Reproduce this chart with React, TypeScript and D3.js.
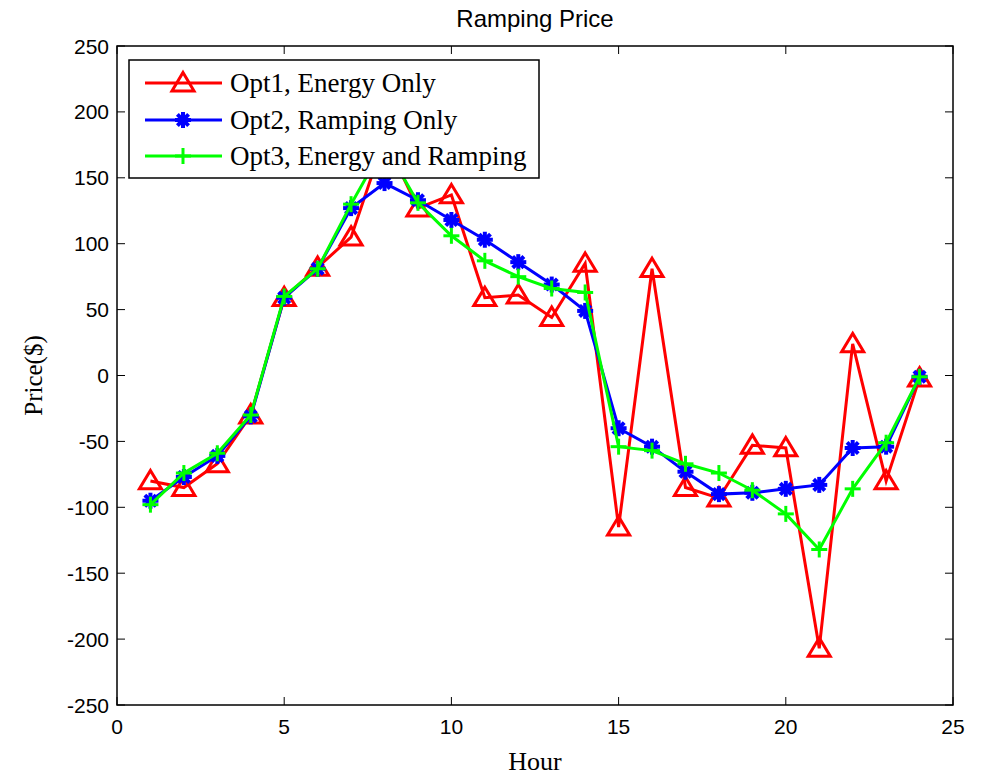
import React from "react";
import * as d3 from "d3";

const hours = [1, 2, 3, 4, 5, 6, 7, 8, 9, 10, 11, 12, 13, 14, 15, 16, 17, 18, 19, 20, 21, 22, 23, 24];
const opt1 = [-80, -85, -67, -30, 59, 82, 105, 180, 127, 137, 59, 61, 44, 85, -115, 81, -85, -93, -53, -55, -207, 24, -80, -2];
const opt2 = [-95, -77, -61, -31, 59, 81, 127, 146, 133, 118, 103, 86, 69, 49, -40, -54, -73, -90, -89, -86, -83, -55, -54, -1];
const opt3 = [-98, -74, -59, -30, 60, 81, 130, 175, 131, 106, 87, 75, 66, 63, -54, -57, -67, -74, -87, -105, -132, -86, -51, -1];
const xTicks = [0, 5, 10, 15, 20, 25];
const yTicks = [-250, -200, -150, -100, -50, 0, 50, 100, 150, 200, 250];
const seriesNames = ["Opt1, Energy Only", "Opt2, Ramping Only", "Opt3, Energy and Ramping"];
const seriesColors = ["#ff0000", "#0000ff", "#00ff00"];

const W = 983, H = 775;
const L = 117, R = 953, T = 46, B = 705;

function Marker({ kind, x, y, color }: { kind: number; x: number; y: number; color: string }) {
  if (kind === 0) {
    const s = 10.5;
    const pts = `${x},${y - s} ${x + s * 1.05},${y + s * 0.75} ${x - s * 1.05},${y + s * 0.75}`;
    return <polygon points={pts} fill="none" stroke={color} strokeWidth={3} />;
  }
  if (kind === 1) {
    const s = 6;
    return (
      <g stroke={color} strokeWidth={4} strokeLinecap="square">
        <line x1={x - s} y1={y} x2={x + s} y2={y} />
        <line x1={x} y1={y - s} x2={x} y2={y + s} />
        <line x1={x - s * 0.7} y1={y - s * 0.7} x2={x + s * 0.7} y2={y + s * 0.7} />
        <line x1={x - s * 0.7} y1={y + s * 0.7} x2={x + s * 0.7} y2={y - s * 0.7} />
      </g>
    );
  }
  const s = 8;
  return (
    <g stroke={color} strokeWidth={3}>
      <line x1={x - s} y1={y} x2={x + s} y2={y} />
      <line x1={x} y1={y - s} x2={x} y2={y + s} />
    </g>
  );
}

export default function App() {
  const x = d3.scaleLinear().domain([0, 25]).range([L, R]);
  const y = d3.scaleLinear().domain([-250, 250]).range([B, T]);
  const line = d3
    .line<number>()
    .x((_, i) => x(hours[i]))
    .y((d) => y(d));
  const all = [opt1, opt2, opt3];
  const tickLen = 8;
  const sans = "'Liberation Sans', Arial, sans-serif";
  const serif = "'Liberation Serif', 'Times New Roman', serif";
  const legX = 129, legY = 60, legW = 410, legH = 118;
  const rowY = [83, 120, 156];

  return (
    <svg width={W} height={H} style={{ position: "absolute", left: 0, top: 0, background: "#fff" }}>
      <rect x={0} y={0} width={W} height={H} fill="#fff" />
      <defs>
        <clipPath id="plotclip">
          <rect x={L} y={T} width={R - L} height={B - T} />
        </clipPath>
      </defs>
      <g clipPath="url(#plotclip)">
        {all.map((s, k) => (
          <g key={k}>
            <path d={line(s) || ""} fill="none" stroke={seriesColors[k]} strokeWidth={3} strokeLinejoin="miter" />
            {s.map((v, i) => (
              <Marker key={i} kind={k} x={x(hours[i])} y={y(v)} color={seriesColors[k]} />
            ))}
          </g>
        ))}
      </g>
      <rect x={L} y={T} width={R - L} height={B - T} fill="none" stroke="#000" strokeWidth={1.5} />
      {xTicks.map((t) => (
        <g key={"x" + t}>
          <line x1={x(t)} y1={B} x2={x(t)} y2={B - tickLen} stroke="#000" strokeWidth={1} />
          <line x1={x(t)} y1={T} x2={x(t)} y2={T + tickLen} stroke="#000" strokeWidth={1} />
          <text x={x(t)} y={734} textAnchor="middle" fontFamily={sans} fontSize={21}>
            {t}
          </text>
        </g>
      ))}
      {yTicks.map((t) => (
        <g key={"y" + t}>
          <line x1={L} y1={y(t)} x2={L + tickLen} y2={y(t)} stroke="#000" strokeWidth={1} />
          <line x1={R} y1={y(t)} x2={R - tickLen} y2={y(t)} stroke="#000" strokeWidth={1} />
          <text x={109} y={y(t) + 7.5} textAnchor="end" fontFamily={sans} fontSize={21}>
            {t}
          </text>
        </g>
      ))}
      <text x={(L + R) / 2} y={27} textAnchor="middle" fontFamily={sans} fontSize={24}>
        Ramping Price
      </text>
      <text x={(L + R) / 2} y={770} textAnchor="middle" fontFamily={serif} fontSize={26}>
        Hour
      </text>
      <text
        transform={`translate(42, ${(T + B) / 2}) rotate(-90)`}
        textAnchor="middle"
        fontFamily={serif}
        fontSize={25}
      >
        Price($)
      </text>
      <rect x={legX} y={legY} width={legW} height={legH} fill="#fff" stroke="#000" strokeWidth={1.5} />
      {seriesNames.map((n, k) => (
        <g key={n}>
          <line x1={145} y1={rowY[k]} x2={222} y2={rowY[k]} stroke={seriesColors[k]} strokeWidth={3} />
          <Marker kind={k} x={183} y={rowY[k]} color={seriesColors[k]} />
          <text x={230} y={rowY[k] + 9} fontFamily={serif} fontSize={27}>
            {n}
          </text>
        </g>
      ))}
    </svg>
  );
}
